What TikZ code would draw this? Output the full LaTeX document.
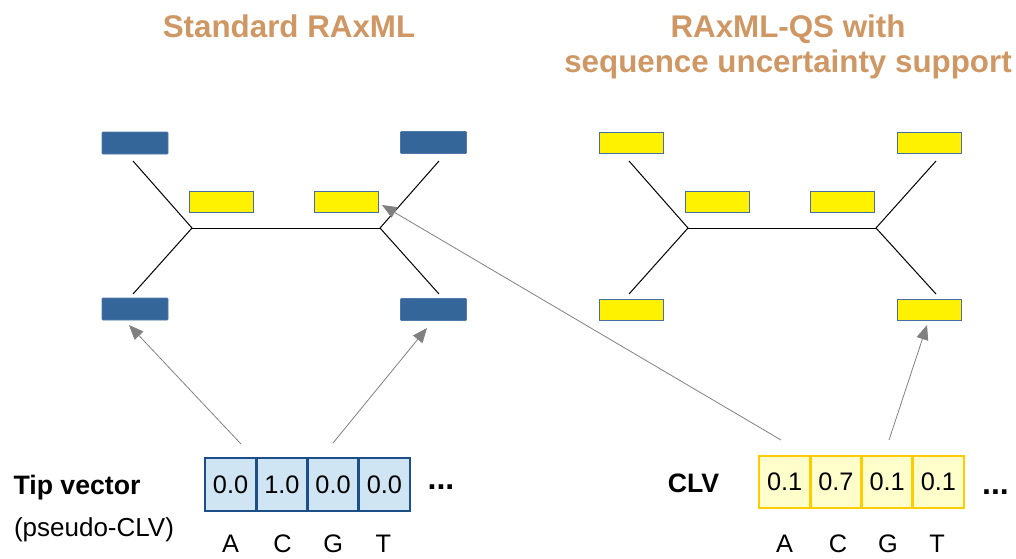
\documentclass[tikz,border=0pt]{standalone}
\usepackage{fontspec}
\setmainfont{Liberation Sans}
\usetikzlibrary{arrows.meta}
\definecolor{titlecol}{RGB}{207,151,99}
\definecolor{leafblue}{RGB}{52,102,153}
\definecolor{leafblueedge}{RGB}{80,120,170}
\definecolor{yedge}{RGB}{70,110,170}
\definecolor{tipfill}{RGB}{207,229,244}
\definecolor{tipedge}{RGB}{28,78,136}
\definecolor{clvfill}{RGB}{255,255,204}
\definecolor{clvedge}{RGB}{255,204,0}
\definecolor{arrowgray}{RGB}{128,128,128}
\tikzset{
  bluebox/.style={draw=leafblueedge, fill=leafblue, line width=0.4pt, minimum width=49.5pt, minimum height=16.5pt, inner sep=0pt, rounded corners=0.5pt},
  yelbox/.style={draw=yedge, fill=yellow, line width=0.6pt, minimum width=48pt, minimum height=15.75pt, inner sep=0pt},
  tipcell/.style={draw=tipedge, fill=tipfill, line width=1.9pt, minimum width=38.44pt, minimum height=39.75pt, inner sep=0pt, font=\fontsize{19}{22}\selectfont},
  clvcell/.style={draw=clvedge, fill=clvfill, line width=1.9pt, minimum width=38.44pt, minimum height=39pt, inner sep=0pt, font=\fontsize{19}{22}\selectfont},
  branch/.style={draw=black, line width=0.75pt},
  ptr/.style={draw=arrowgray, line width=0.6pt, -{Triangle[length=11pt,width=9pt]}},
  title/.style={text=titlecol, font=\bfseries\fontsize{23.5}{26}\selectfont, anchor=base, inner sep=0pt},
  lbl/.style={font=\fontsize{19}{22}\selectfont, anchor=base, inner sep=0pt},
  plbl/.style={font=\fontsize{19.5}{22}\selectfont, anchor=base, inner sep=0pt},
  blbl/.style={font=\bfseries\fontsize{20}{22}\selectfont, anchor=base, inner sep=0pt},
  dots/.style={font=\bfseries\fontsize{24}{26}\selectfont, anchor=base, inner sep=0pt}
}
\begin{document}
\begin{tikzpicture}[x=0.75pt,y=-0.75pt]
\useasboundingbox (0,0) rectangle (1016,558);
% titles
\node[title] (t1) at (289,37) {Standard RAxML};
\node[title] (t2) at (788,37) {RAxML-QS with};
\node[title] (t3) at (788,72) {sequence uncertainty support};
% left tree
\coordinate (L1) at (192,228);
\coordinate (L2) at (380,228);
\coordinate (la) at (133,161);
\coordinate (lb) at (133,294);
\coordinate (lc) at (439,161);
\coordinate (ld) at (439,294);
\draw[branch] (la) -- (L1) -- (lb);
\draw[branch] (L1) -- (L2);
\draw[branch] (lc) -- (L2) -- (ld);
\node[bluebox] (lTL) at (135,143) {};
\node[bluebox] (lTR) at (433.5,142.5) {};
\node[bluebox] (lBL) at (135,309) {};
\node[bluebox] (lBR) at (433.5,309.5) {};
\node[yelbox] (lI1) at (221,201.5) {};
\node[yelbox] (lI2) at (346,201.5) {};
% right tree
\coordinate (R1) at (688,228);
\coordinate (R2) at (876,228);
\coordinate (ra) at (629,161);
\coordinate (rb) at (629,294);
\coordinate (rc) at (936,161);
\coordinate (rd) at (936,294);
\draw[branch] (ra) -- (R1) -- (rb);
\draw[branch] (R1) -- (R2);
\draw[branch] (rc) -- (R2) -- (rd);
\node[yelbox] (rTL) at (631,142.5) {};
\node[yelbox] (rTR) at (929.5,142.5) {};
\node[yelbox] (rBL) at (631,309.5) {};
\node[yelbox] (rBR) at (929.5,309.5) {};
\node[yelbox] (rI1) at (717,201.5) {};
\node[yelbox] (rI2) at (842,201.5) {};
% tip vector
\node[tipcell] (c1) at (230.6,484.5) {0.0};
\node[tipcell] (c2) at (281.9,484.5) {1.0};
\node[tipcell] (c3) at (333.1,484.5) {0.0};
\node[tipcell] (c4) at (384.4,484.5) {0.0};
\node[blbl] (tv) at (77,494) {Tip vector};
\node[plbl] (pc) at (94,536) {(pseudo-CLV)};
\node[dots] (d1) at (441,489) {...};
\node[lbl] (nA) at (230.6,552) {A};
\node[lbl] (nC) at (282.5,552) {C};
\node[lbl] (nG) at (333.1,552) {G};
\node[lbl] (nT) at (383.4,552) {T};
% CLV
\node[clvcell] (k1) at (784.6,482) {0.1};
\node[clvcell] (k2) at (835.9,482) {0.7};
\node[clvcell] (k3) at (887.1,482) {0.1};
\node[clvcell] (k4) at (938.4,482) {0.1};
\node[blbl] (clv) at (693.5,492) {CLV};
\node[dots] (d2) at (995.5,494) {...};
\node[lbl] (mA) at (784.6,552) {A};
\node[lbl] (mC) at (838,552) {C};
\node[lbl] (mG) at (888,552) {G};
\node[lbl] (mT) at (937,552) {T};
% arrows
\coordinate (s1) at (241,444);
\coordinate (e1) at (129,325);
\coordinate (s2) at (333,443);
\coordinate (e2) at (427,328);
\coordinate (s3) at (781,440);
\coordinate (e3) at (382,205);
\coordinate (s4) at (889,440);
\coordinate (e4) at (927,325);
\draw[ptr] (s1) -- (e1);
\draw[ptr] (s2) -- (e2);
\draw[ptr] (s3) -- (e3);
\draw[ptr] (s4) -- (e4);
\end{tikzpicture}
\end{document}
